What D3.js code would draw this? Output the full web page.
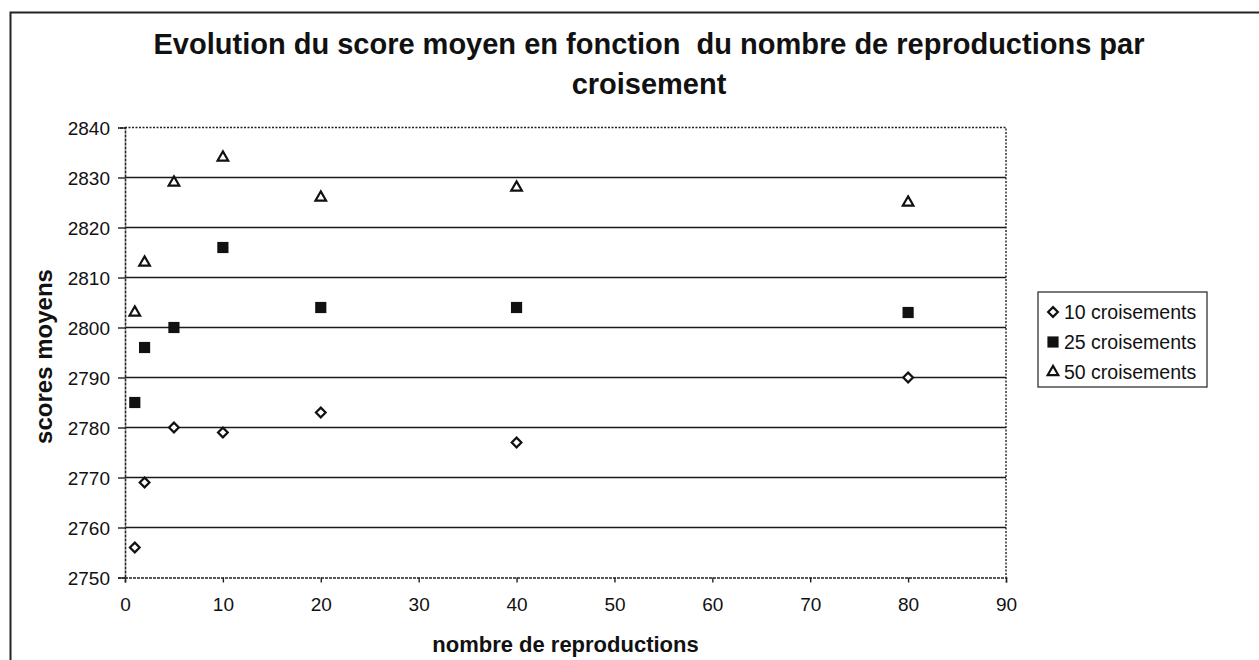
<!DOCTYPE html>
<html>
<head>
<meta charset="utf-8">
<script src="https://cdn.jsdelivr.net/npm/d3@7"></script>
<style>
  body { margin: 0; background: #fff; }
  text { font-family: "Liberation Sans", Arial, sans-serif; fill: #111; }
</style>
</head>
<body>
<div id="scatter_plot"></div>
<script>
// data
let reproductions = [1, 2, 5, 10, 20, 40, 80];
let series_names = ["10 croisements", "25 croisements", "50 croisements"];
let scores_10 = [2756, 2769, 2780, 2779, 2783, 2777, 2790];
let scores_25 = [2785, 2796, 2800, 2816, 2804, 2804, 2803];
let scores_50 = [2803, 2813, 2829, 2834, 2826, 2828, 2825];
let x_ticks = [0, 10, 20, 30, 40, 50, 60, 70, 80, 90];
let y_ticks = [2750, 2760, 2770, 2780, 2790, 2800, 2810, 2820, 2830, 2840];

// set the dimensions and margins of the graph
let margin = {top: 127.5, right: 253, bottom: 82.5, left: 125},
    width = 1259 - margin.left - margin.right,
    height = 660 - margin.top - margin.bottom;

let svg = d3.select("#scatter_plot")
    .append("svg")
    .attr("width", 1259)
    .attr("height", 660);

// outer frame of the chart (runs off the page right and bottom)
svg.append("path")
    .attr("d", "M10.5,662 V12.5 H1262")
    .attr("fill", "none")
    .attr("stroke", "#222")
    .attr("stroke-width", 2);

// title, two lines
let title = svg.append("text")
    .attr("text-anchor", "middle")
    .style("font-size", "29px")
    .style("font-weight", "bold");
title.append("tspan").attr("x", 649).attr("y", 54)
    .style("white-space", "pre")
    .text("Evolution du score moyen en fonction  du nombre de reproductions par");
title.append("tspan").attr("x", 649).attr("y", 94).text("croisement");

let g = svg.append("g")
    .attr("transform", "translate(" + margin.left + "," + margin.top + ")");

let x = d3.scaleLinear()
    .domain([0, 90])
    .range([0, width]);

let y = d3.scaleLinear()
    .domain([2750, 2840])
    .range([height, 0]);

// horizontal grid lines
g.selectAll(".grid")
    .data(y_ticks.filter(d => d > 2750 && d < 2840))
    .enter()
    .append("line")
    .attr("x1", 0)
    .attr("x2", width)
    .attr("y1", d => y(d))
    .attr("y2", d => y(d))
    .attr("stroke", "#1a1a1a")
    .attr("stroke-width", 1.6);

// dotted top and right border of the plot area
g.append("path")
    .attr("d", "M0," + y(2840) + " H" + x(90) + " V" + y(2750))
    .attr("fill", "none")
    .attr("stroke", "#222")
    .attr("stroke-width", 1.4)
    .attr("stroke-dasharray", "2,1.5");

// Add X axis
let xAxis = g.append("g")
    .attr("transform", "translate(0," + height + ")")
    .call(d3.axisBottom(x).tickValues(x_ticks).tickSize(5).tickPadding(15));

// Add Y axis
let yAxis = g.append("g")
    .call(d3.axisLeft(y).tickValues(y_ticks).tickFormat(d3.format("d")).tickSize(7).tickPadding(8));

[xAxis, yAxis].forEach(a => {
    a.select(".domain").attr("stroke", "#222").attr("stroke-width", 1.6)
        .attr("stroke-dasharray", "3,1");
    a.selectAll(".tick line").attr("stroke", "#222").attr("stroke-width", 1.4);
    a.selectAll(".tick text")
        .style("font-family", "'Liberation Sans', Arial, sans-serif")
        .style("font-size", "19px")
        .attr("fill", "#111");
});
yAxis.selectAll(".tick text").attr("dy", "0.36em");

// axis titles
svg.append("text")
    .attr("x", margin.left + width / 2)
    .attr("y", 652)
    .attr("text-anchor", "middle")
    .style("font-size", "22px")
    .style("font-weight", "bold")
    .text("nombre de reproductions");

svg.append("text")
    .attr("transform", "translate(52," + (margin.top + height / 2 + 4) + ") rotate(-90)")
    .attr("text-anchor", "middle")
    .style("font-size", "24px")
    .style("font-weight", "bold")
    .text("scores moyens");

// marker shapes for each series
let shapes = [
    {sym: d3.symbolDiamond2, size: 60, fill: "#fff", stroke: "#111", sw: 2.2},
    {sym: d3.symbolSquare, size: 125, fill: "#111", stroke: "none", sw: 0},
    {sym: d3.symbolTriangle2, size: 80, fill: "#fff", stroke: "#111", sw: 2.2}
];
let all_scores = [scores_10, scores_25, scores_50];

all_scores.forEach((scores, i) => {
    let s = shapes[i];
    g.selectAll(".pt" + i)
        .data(reproductions.map((r, j) => ({r: r, v: scores[j]})))
        .enter()
        .append("path")
        .attr("transform", d => "translate(" + x(d.r) + "," + y(d.v) + ")")
        .attr("d", d3.symbol().type(s.sym).size(s.size))
        .attr("fill", s.fill)
        .attr("stroke", s.stroke)
        .attr("stroke-width", s.sw);
});

// legend box
let legend = svg.append("g").attr("transform", "translate(1038,292)");
legend.append("rect")
    .attr("width", 169)
    .attr("height", 95)
    .attr("fill", "#fff")
    .attr("stroke", "#333")
    .attr("stroke-width", 1.3);

series_names.forEach((name, i) => {
    let s = shapes[i];
    let ly = 20 + i * 30;
    legend.append("path")
        .attr("transform", "translate(15," + ly + ")")
        .attr("d", d3.symbol().type(s.sym).size(s.size))
        .attr("fill", s.fill)
        .attr("stroke", s.stroke)
        .attr("stroke-width", s.sw);
    legend.append("text")
        .attr("x", 26)
        .attr("y", ly)
        .attr("dy", "0.36em")
        .style("font-size", "19.5px")
        .text(name);
});
</script>
</body>
</html>
